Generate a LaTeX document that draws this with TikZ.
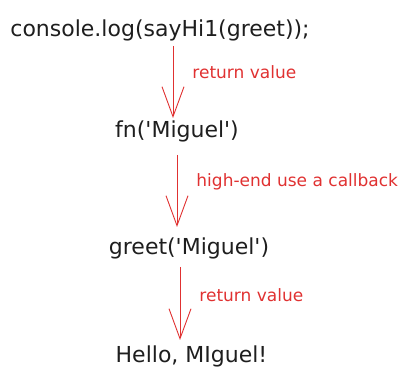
\documentclass[tikz,border=0pt]{standalone}
\usepackage{fontspec}
\setmainfont{DejaVu Sans}
\usetikzlibrary{arrows.meta,positioning,calc}
\definecolor{inkred}{HTML}{E03131}
\definecolor{inkdark}{HTML}{1E1E1E}
\newcommand{\sq}{\textquotesingle}
\tikzset{
code/.style = {text=inkdark, inner sep=0pt, anchor=base, font=\fontsize{22}{24}\selectfont},
note/.style = {text=inkred, inner sep=0pt, anchor=west, font=\fontsize{17}{19}\selectfont},
flow/.style = {draw=inkred, line width=0.9pt, -{Straight Barb[length=30pt,width=22pt]}}
}
\begin{document}
\begin{tikzpicture}[x=1pt, y=-1pt]
    \useasboundingbox (0,0) rectangle (413,379);

    % code lines, placed on their baselines
    \node [code] (console) at (160,37) {console.log(sayHi1(greet));};
    \node [code] (fn) at (177,138) {fn(\sq Miguel\sq)};
    \node [code] (greet) at (189,255) {greet(\sq Miguel\sq)};
    \node [code] (hello) at (191.5,363) {Hello, MIguel!};

    \draw [flow] ([xshift=13pt, yshift=-9pt]console.base) -- ([xshift=-4pt, yshift=20pt]fn.base)
        node [note, pos=0.36, xshift=19pt] {return value};
    \draw [flow] ([yshift=-17pt]fn.base) -- ([xshift=-12pt, yshift=28pt]greet.base)
        node [note, pos=0.37, xshift=19pt] {high-end use a callback};
    \draw [flow] ([xshift=-9pt, yshift=-12pt]greet.base) -- ([xshift=-11.5pt, yshift=23pt]hello.base)
        node [note, pos=0.38, xshift=19pt] {return value};
\end{tikzpicture}
\end{document}
